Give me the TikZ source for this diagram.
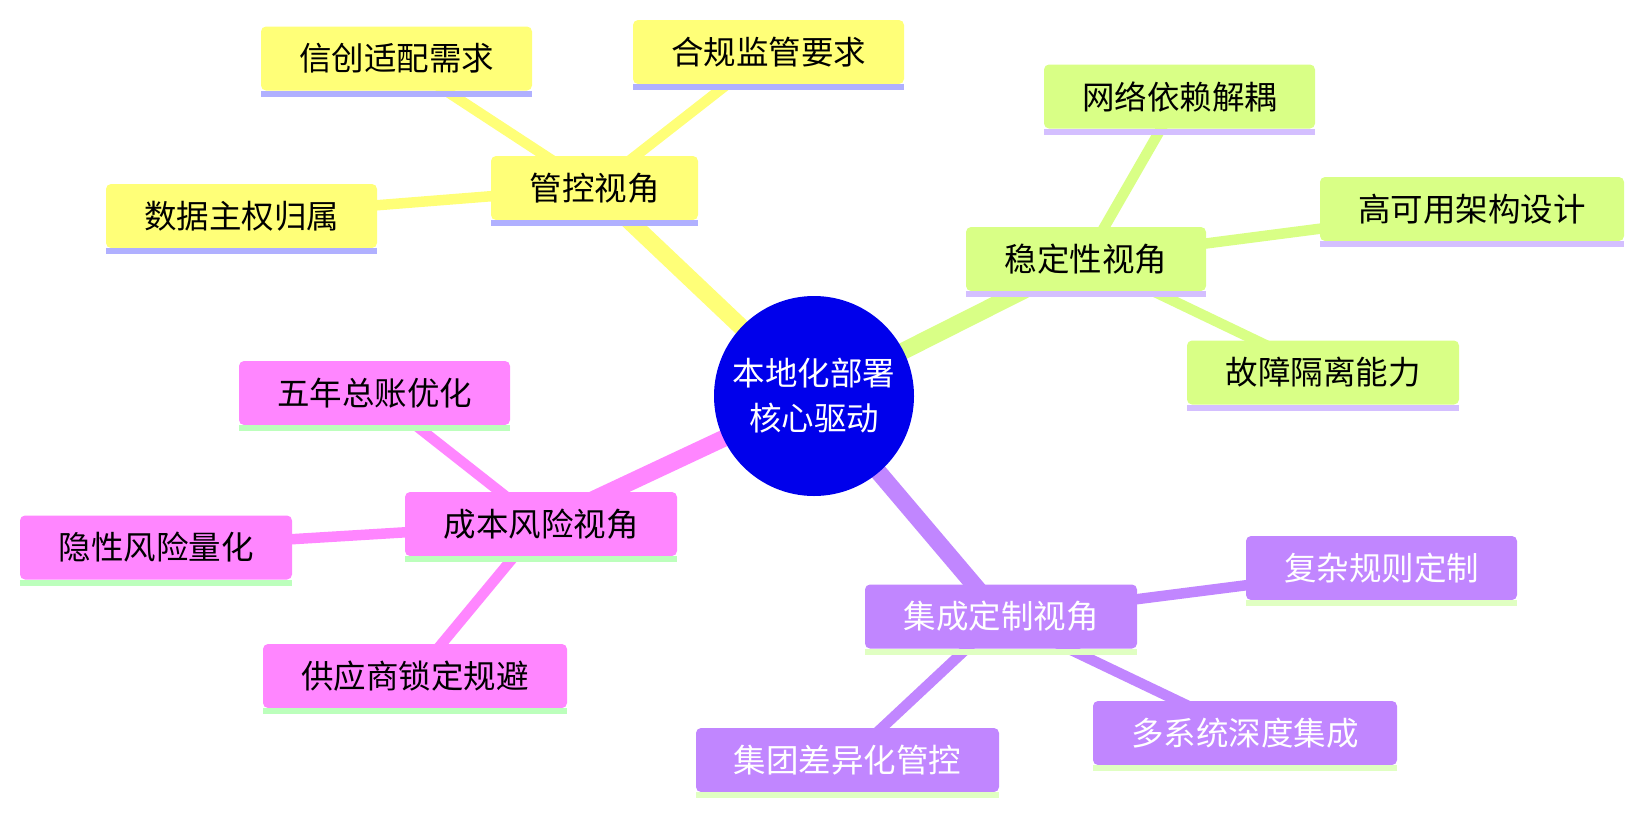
\documentclass[tikz,border=0pt]{standalone}
\usepackage{fontspec}
\setmainfont{Noto Sans CJK SC}
\usetikzlibrary{backgrounds}
\definecolor{rootc}{HTML}{0000EB}
\definecolor{yf}{HTML}{FFFF78}
\definecolor{yu}{HTML}{B0B0FF}
\definecolor{gf}{HTML}{D9FF86}
\definecolor{gu}{HTML}{D4BFFF}
\definecolor{pf}{HTML}{FF86FF}
\definecolor{pu}{HTML}{BCFFBC}
\definecolor{vf}{HTML}{C186FF}
\definecolor{vu}{HTML}{E0FFC2}
\newcommand{\mmbox}[8]{%
  \node[box, fill=#5, text=#7, minimum width=#4pt] (#1) at (#2,#3) {#8};
  \fill[#6] (#1.south west) rectangle ([yshift=-6pt]#1.south east);
}
\begin{document}
\begin{tikzpicture}[x=1pt,y=-1pt,
  box/.style={rounded corners=5pt, minimum height=64pt, inner sep=0pt,
    font=\fontsize{32.5}{38}\selectfont, anchor=center},
  thick edge/.style={line width=17pt},
  thin edge/.style={line width=10.5pt}]
\useasboundingbox (0,0) rectangle (1643,815);
\node[circle, fill=rootc, text=white, minimum size=200pt, inner sep=0pt,
  align=center, font=\fontsize{32.5}{45}\selectfont] (root) at (814,396) {本地化部署\\核心驱动};
% control
\mmbox{gk}{594.5}{188}{207}{yf}{yu}{black}{管控视角}
\mmbox{xc}{396.5}{58.5}{271}{yf}{yu}{black}{信创适配需求}
\mmbox{hg}{768.5}{52}{271}{yf}{yu}{black}{合规监管要求}
\mmbox{sj}{241.5}{216}{271}{yf}{yu}{black}{数据主权归属}
% stability
\mmbox{wd}{1086}{259}{240}{gf}{gu}{black}{稳定性视角}
\mmbox{wl}{1179.5}{96.5}{271}{gf}{gu}{black}{网络依赖解耦}
\mmbox{gky}{1472}{209}{304}{gf}{gu}{black}{高可用架构设计}
\mmbox{gz}{1323}{372.5}{272}{gf}{gu}{black}{故障隔离能力}
% cost
\mmbox{cb}{541}{524}{272}{pf}{pu}{black}{成本风险视角}
\mmbox{wn}{374.5}{393}{271}{pf}{pu}{black}{五年总账优化}
\mmbox{yx}{156}{547.5}{272}{pf}{pu}{black}{隐性风险量化}
\mmbox{gy}{415}{676}{304}{pf}{pu}{black}{供应商锁定规避}
% integration
\mmbox{jc}{1001}{616.5}{272}{vf}{vu}{white}{集成定制视角}
\mmbox{fz}{1381.5}{568}{271}{vf}{vu}{white}{复杂规则定制}
\mmbox{dx}{1245}{733}{304}{vf}{vu}{white}{多系统深度集成}
\mmbox{jt}{847.5}{760}{303}{vf}{vu}{white}{集团差异化管控}
\begin{scope}[on background layer]
\draw[yf, thick edge] (root.center) -- (gk.center);
\draw[gf, thick edge] (root.center) -- (wd.center);
\draw[pf, thick edge] (root.center) -- (cb.center);
\draw[vf, thick edge] (root.center) -- (jc.center);
\draw[yf, thin edge] (gk.center) -- (xc.center);
\draw[yf, thin edge] (gk.center) -- (hg.center);
\draw[yf, thin edge] (gk.center) -- (sj.center);
\draw[gf, thin edge] (wd.center) -- (wl.center);
\draw[gf, thin edge] (wd.center) -- (gky.center);
\draw[gf, thin edge] (wd.center) -- (gz.center);
\draw[pf, thin edge] (cb.center) -- (wn.center);
\draw[pf, thin edge] (cb.center) -- (yx.center);
\draw[pf, thin edge] (cb.center) -- (gy.center);
\draw[vf, thin edge] (jc.center) -- (fz.center);
\draw[vf, thin edge] (jc.center) -- (dx.center);
\draw[vf, thin edge] (jc.center) -- (jt.center);
\end{scope}
\end{tikzpicture}
\end{document}
